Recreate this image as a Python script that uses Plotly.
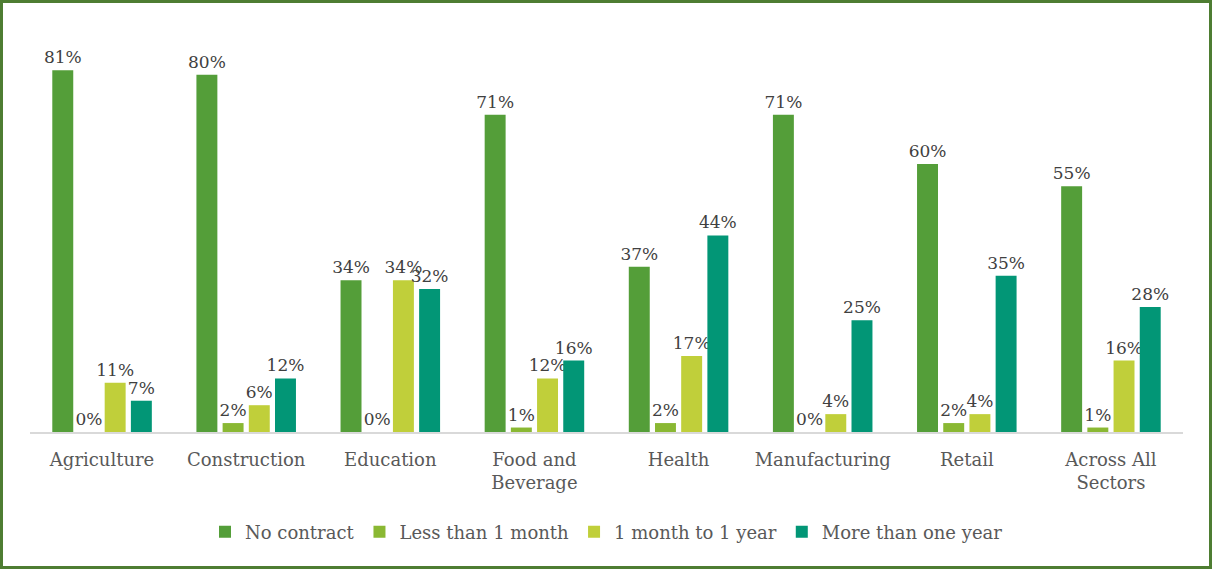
import plotly.graph_objects as go

# Employment contract type by sector (share of workers)
sectors = ["Agriculture", "Construction", "Education", "Food and<br>Beverage",
           "Health", "Manufacturing", "Retail", "Across All<br>Sectors"]
series_names = ["No contract", "Less than 1 month", "1 month to 1 year", "More than one year"]
no_contract = [81, 80, 34, 71, 37, 71, 60, 55]
less_than_1_month = [0, 2, 0, 1, 2, 0, 2, 1]
one_month_to_1_year = [11, 6, 34, 12, 17, 4, 4, 16]
more_than_one_year = [7, 12, 32, 16, 44, 25, 35, 28]
colors = ["#549E39", "#8AB833", "#C0CF3A", "#029676"]

W, H = 1212, 569
ML, MR, MT, MB = 30, 29, 30, 137
FONT = "Georgia, 'DejaVu Serif', serif"
LABEL_FONT = dict(family=FONT, size=17, color="#404040")

fig = go.Figure()
for name, vals, col in zip(series_names,
                           [no_contract, less_than_1_month, one_month_to_1_year, more_than_one_year],
                           colors):
    fig.add_trace(go.Bar(
        name=name, x=sectors, y=vals, marker=dict(color=col, line=dict(width=0)),
        text=[f"{v}%" for v in vals], textposition="outside",
        textfont=LABEL_FONT, outsidetextfont=LABEL_FONT,
        constraintext="none", cliponaxis=False,
    ))

pw = W - ML - MR
ph = H - MT - MB
def px_x(p):
    return (p - ML) / pw
def px_y(p):
    return (H - MB - p) / ph

fig.update_layout(
    width=W, height=H,
    margin=dict(l=ML, r=MR, t=MT, b=MB),
    paper_bgcolor="white", plot_bgcolor="white",
    barmode="group", bargap=0.273, bargroupgap=0.2,
    font=dict(family=FONT, size=18, color="#595959"),
    showlegend=True,
    legend=dict(orientation="h", x=0.5, xanchor="center", y=px_y(532), yanchor="middle",
                font=dict(family=FONT, size=18, color="#595959"),
                itemwidth=30, traceorder="normal"),
    xaxis=dict(showline=True, linecolor="#D9D9D9", linewidth=2, ticks="",
               tickfont=dict(family=FONT, size=18, color="#595959"),
               ticklabelstandoff=10,
               showgrid=False, zeroline=False),
    yaxis=dict(visible=False, range=[0, 90], showgrid=False, zeroline=False),
    shapes=[dict(type="rect", xref="paper", yref="paper",
                 x0=px_x(1.5), x1=px_x(W - 1.5), y0=px_y(H - 1.5), y1=px_y(1.5),
                 line=dict(color="#4E7D32", width=3), fillcolor="rgba(0,0,0,0)",
                 layer="above")],
)

fig.write_html("out.html")
